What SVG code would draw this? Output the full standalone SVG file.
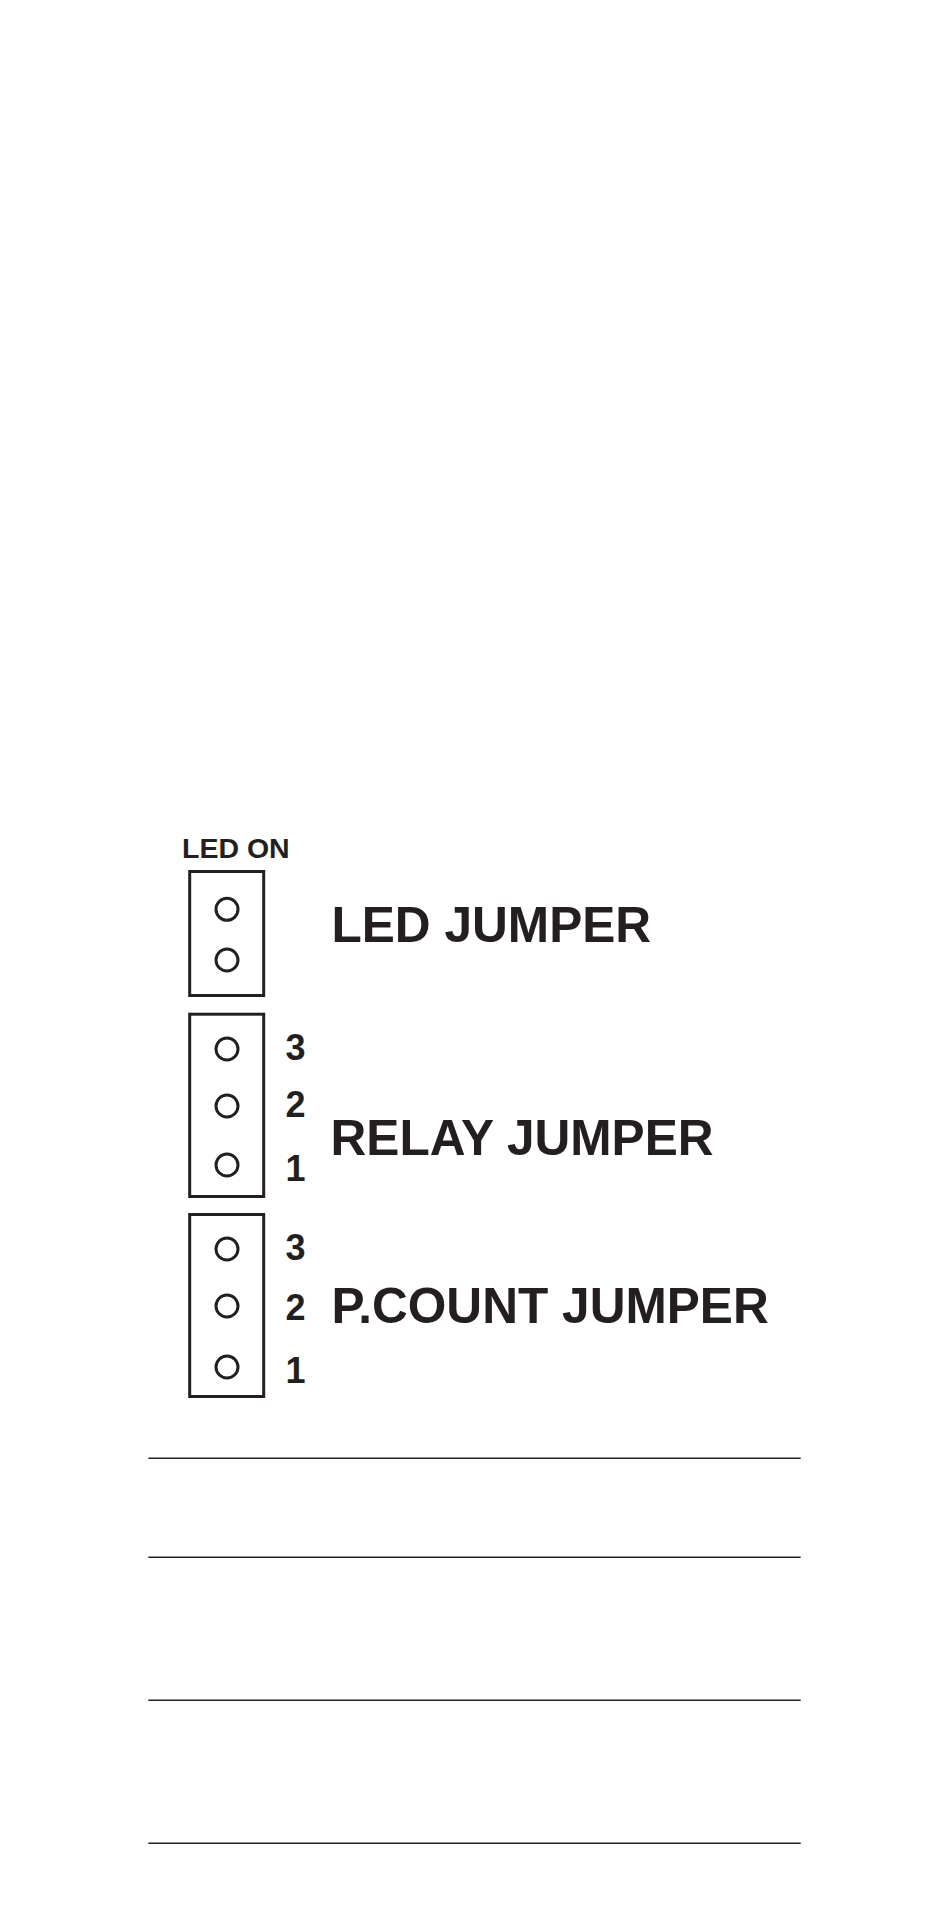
<svg xmlns="http://www.w3.org/2000/svg" width="950" height="1908" viewBox="0 0 950 1908">
<style>
.box{fill:none;stroke:#231f20;stroke-width:3}
.pin{fill:none;stroke:#231f20;stroke-width:3}
.t{font-family:"Liberation Sans",Arial,sans-serif;font-weight:bold;fill:#231f20}
.big{font-size:49.6px}
.num{font-size:36px}
.rule{stroke:#231f20;stroke-width:1.4}
</style>
<rect width="950" height="1908" fill="#ffffff"/>
<g id="led">
<text class="t" x="182" y="858" font-size="28.5">LED ON</text>
<rect class="box" x="189.7" y="871.5" width="74" height="124"/>
<circle class="pin" cx="227" cy="909.3" r="11"/>
<circle class="pin" cx="227" cy="960" r="11"/>
<text class="t big" x="331.5" y="941.5">LED JUMPER</text>
</g>
<g id="relay">
<rect class="box" x="189.7" y="1014.2" width="74" height="182.3"/>
<circle class="pin" cx="227" cy="1049" r="11"/>
<circle class="pin" cx="227" cy="1106" r="11"/>
<circle class="pin" cx="227" cy="1165" r="11"/>
<text class="t num" x="285.5" y="1060">3</text>
<text class="t num" x="285.5" y="1117">2</text>
<text class="t num" x="285.5" y="1181">1</text>
<text class="t big" x="330.5" y="1155">RELAY JUMPER</text>
</g>
<g id="pcount">
<rect class="box" x="189.7" y="1214.5" width="74" height="182"/>
<circle class="pin" cx="227" cy="1249" r="11"/>
<circle class="pin" cx="227" cy="1306" r="11"/>
<circle class="pin" cx="227" cy="1367" r="11"/>
<text class="t num" x="285.5" y="1260">3</text>
<text class="t num" x="285.5" y="1320">2</text>
<text class="t num" x="285.5" y="1383">1</text>
<text class="t big" x="331.5" y="1323">P.COUNT JUMPER</text>
</g>
<g id="connectors">
<line class="rule" x1="148.3" y1="1458.3" x2="800.7" y2="1458.3"/>
<line class="rule" x1="148.3" y1="1557.3" x2="800.7" y2="1557.3"/>
<line class="rule" x1="148.3" y1="1700.3" x2="800.7" y2="1700.3"/>
<line class="rule" x1="148.3" y1="1843.3" x2="800.7" y2="1843.3"/>
</g>
</svg>
